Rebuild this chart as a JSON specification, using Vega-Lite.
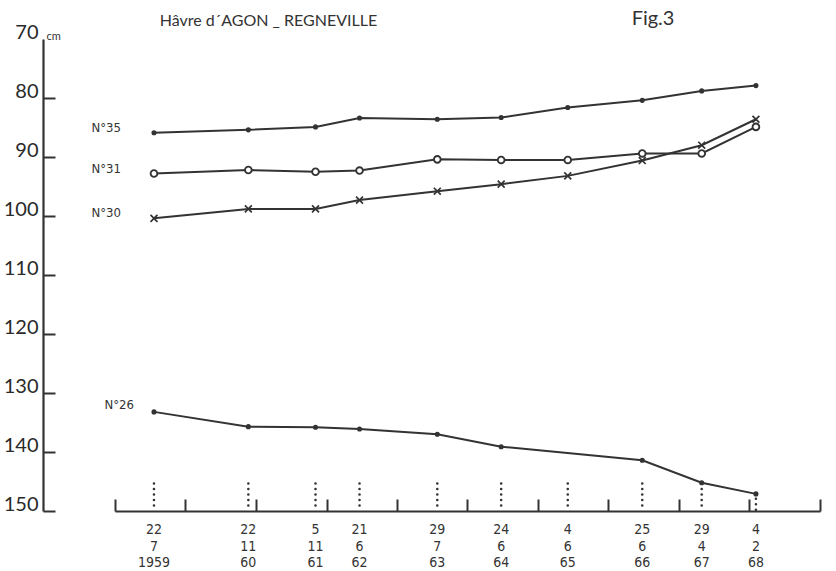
{
  "$schema": "https://vega.github.io/schema/vega-lite/v6.json",
  "width": 705,
  "height": 472,
  "autosize": {"type": "none"},
  "padding": {"left": 115, "top": 39, "right": 16, "bottom": 60},
  "background": "white",
  "config": {"view": {"stroke": null}, "font": "Lato"},
  "datasets": {
    "dates": [
      {"date": "1959-07-22", "label": "22\n7\n1959", "top": 145.35},
      {"date": "1960-11-22", "label": "22\n11\n60", "top": 145.35},
      {"date": "1961-11-05", "label": "5\n11\n61", "top": 145.35},
      {"date": "1962-06-21", "label": "21\n6\n62", "top": 145.35},
      {"date": "1963-07-29", "label": "29\n7\n63", "top": 145.35},
      {"date": "1964-06-24", "label": "24\n6\n64", "top": 145.35},
      {"date": "1965-06-04", "label": "4\n6\n65", "top": 145.35},
      {"date": "1966-06-25", "label": "25\n6\n66", "top": 145.35},
      {"date": "1967-04-29", "label": "29\n4\n67", "top": 145.35},
      {"date": "1968-02-04", "label": "4\n2\n68", "top": 147.0}
    ],
    "obs": [
      {"station": "N°35", "date": "1959-07-22", "cm": 85.9},
      {"station": "N°35", "date": "1960-11-22", "cm": 85.4},
      {"station": "N°35", "date": "1961-11-05", "cm": 84.9},
      {"station": "N°35", "date": "1962-06-21", "cm": 83.4},
      {"station": "N°35", "date": "1963-07-29", "cm": 83.6},
      {"station": "N°35", "date": "1964-06-24", "cm": 83.3},
      {"station": "N°35", "date": "1965-06-04", "cm": 81.6},
      {"station": "N°35", "date": "1966-06-25", "cm": 80.4},
      {"station": "N°35", "date": "1967-04-29", "cm": 78.8},
      {"station": "N°35", "date": "1968-02-04", "cm": 77.9},
      {"station": "N°31", "date": "1959-07-22", "cm": 92.8},
      {"station": "N°31", "date": "1960-11-22", "cm": 92.2},
      {"station": "N°31", "date": "1961-11-05", "cm": 92.5},
      {"station": "N°31", "date": "1962-06-21", "cm": 92.3},
      {"station": "N°31", "date": "1963-07-29", "cm": 90.4},
      {"station": "N°31", "date": "1964-06-24", "cm": 90.5},
      {"station": "N°31", "date": "1965-06-04", "cm": 90.5},
      {"station": "N°31", "date": "1966-06-25", "cm": 89.4},
      {"station": "N°31", "date": "1967-04-29", "cm": 89.4},
      {"station": "N°31", "date": "1968-02-04", "cm": 84.9},
      {"station": "N°30", "date": "1959-07-22", "cm": 100.4},
      {"station": "N°30", "date": "1960-11-22", "cm": 98.8},
      {"station": "N°30", "date": "1961-11-05", "cm": 98.8},
      {"station": "N°30", "date": "1962-06-21", "cm": 97.3},
      {"station": "N°30", "date": "1963-07-29", "cm": 95.8},
      {"station": "N°30", "date": "1964-06-24", "cm": 94.6},
      {"station": "N°30", "date": "1965-06-04", "cm": 93.2},
      {"station": "N°30", "date": "1966-06-25", "cm": 90.6},
      {"station": "N°30", "date": "1967-04-29", "cm": 88.0},
      {"station": "N°30", "date": "1968-02-04", "cm": 83.6},
      {"station": "N°26", "date": "1959-07-22", "cm": 133.2},
      {"station": "N°26", "date": "1960-11-22", "cm": 135.7},
      {"station": "N°26", "date": "1961-11-05", "cm": 135.8},
      {"station": "N°26", "date": "1962-06-21", "cm": 136.1},
      {"station": "N°26", "date": "1963-07-29", "cm": 137.0},
      {"station": "N°26", "date": "1964-06-24", "cm": 139.1},
      {"station": "N°26", "date": "1966-06-25", "cm": 141.4},
      {"station": "N°26", "date": "1967-04-29", "cm": 145.2},
      {"station": "N°26", "date": "1968-02-04", "cm": 147.1}
    ]
  },
  "layer": [
    {
      "data": {"name": "dates"},
      "mark": {"type": "rule", "strokeDash": [0, 5.5], "strokeCap": "round", "strokeWidth": 2.6, "color": "#333"},
      "encoding": {
        "x": {
          "field": "date", "type": "temporal",
          "scale": {"domain": [{"year": 1959, "month": 1, "date": 1}, {"year": 1969, "month": 1, "date": 1}], "nice": false},
          "axis": {
            "values": [{"year": 1959}, {"year": 1960}, {"year": 1961}, {"year": 1962}, {"year": 1963}, {"year": 1964}, {"year": 1965}, {"year": 1966}, {"year": 1967}, {"year": 1968}, {"year": 1969}],
            "tickSize": -12, "tickWidth": 2, "tickColor": "#333",
            "labels": false, "grid": false, "title": null,
            "domainColor": "#333", "domainWidth": 2.2
          }
        },
        "y": {
          "field": "top", "type": "quantitative",
          "scale": {"domain": [70, 150], "reverse": true, "nice": false, "zero": false},
          "axis": {
            "values": [70, 80, 90, 100, 110, 120, 130, 140, 150],
            "orient": "left", "offset": 72,
            "tickSize": -12, "tickWidth": 2,
            "tickColor": {"condition": {"test": "datum.value == 70", "value": "transparent"}, "value": "#333"},
            "domainColor": "#333", "domainWidth": 2.2,
            "grid": false,
            "labelFontSize": 20, "labelColor": "#2a2a2a", "labelFont": "Lato",
            "labelBaseline": "alphabetic", "labelPadding": 17, "labelOffset": -1,
            "title": "cm", "titleAngle": 0, "titleX": 3, "titleY": 0,
            "titleAlign": "left", "titleBaseline": "alphabetic",
            "titleFontSize": 11, "titleFontWeight": "normal", "titleColor": "#333", "titleFont": "Lato"
          }
        },
        "y2": {"datum": 150}
      }
    },
    {
      "data": {"name": "dates"},
      "mark": {"type": "text", "lineBreak": "\n", "baseline": "top", "align": "center", "dy": 12, "lineHeight": 16.5, "fontSize": 14, "font": "'Liberation Sans Narrow', 'DejaVu Sans Condensed', sans-serif", "color": "#333"},
      "encoding": {
        "x": {"field": "date", "type": "temporal"},
        "y": {"datum": 150},
        "text": {"field": "label"}
      }
    },
    {
      "data": {"name": "obs"},
      "mark": {"type": "line", "color": "#333", "strokeWidth": 2},
      "encoding": {
        "x": {"field": "date", "type": "temporal"},
        "y": {"field": "cm", "type": "quantitative"},
        "detail": {"field": "station"}
      }
    },
    {
      "data": {"name": "obs"},
      "transform": [{"filter": "datum.station == 'N°35' || datum.station == 'N°26'"}],
      "mark": {"type": "point", "filled": true, "size": 26, "color": "#333", "opacity": 1},
      "encoding": {
        "x": {"field": "date", "type": "temporal"},
        "y": {"field": "cm", "type": "quantitative"}
      }
    },
    {
      "data": {"name": "obs"},
      "transform": [{"filter": "datum.station == 'N°31'"}],
      "mark": {"type": "point", "shape": "circle", "filled": false, "fill": "white", "fillOpacity": 1, "stroke": "#333", "strokeWidth": 1.9, "size": 45, "opacity": 1},
      "encoding": {
        "x": {"field": "date", "type": "temporal"},
        "y": {"field": "cm", "type": "quantitative"}
      }
    },
    {
      "data": {"name": "obs"},
      "transform": [{"filter": "datum.station == 'N°30'"}],
      "mark": {"type": "point", "shape": "M-1,-1L1,1M-1,1L1,-1", "filled": false, "stroke": "#333", "strokeWidth": 1.7, "size": 48, "opacity": 1},
      "encoding": {
        "x": {"field": "date", "type": "temporal"},
        "y": {"field": "cm", "type": "quantitative"}
      }
    },
    {
      "data": {"name": "obs"},
      "transform": [{"filter": "year(datum.date) == 1959 && datum.station != 'N°26'"}],
      "mark": {"type": "text", "align": "right", "baseline": "middle", "dx": -33, "dy": -5, "fontSize": 13, "font": "'Liberation Sans Narrow', 'DejaVu Sans Condensed', sans-serif", "color": "#333"},
      "encoding": {
        "x": {"field": "date", "type": "temporal"},
        "y": {"field": "cm", "type": "quantitative"},
        "text": {"field": "station"}
      }
    },
    {
      "data": {"name": "obs"},
      "transform": [{"filter": "year(datum.date) == 1959 && datum.station == 'N°26'"}],
      "mark": {"type": "text", "align": "right", "baseline": "middle", "dx": -20, "dy": -7, "fontSize": 13, "font": "'Liberation Sans Narrow', 'DejaVu Sans Condensed', sans-serif", "color": "#333"},
      "encoding": {
        "x": {"field": "date", "type": "temporal"},
        "y": {"field": "cm", "type": "quantitative"},
        "text": {"field": "station"}
      }
    },
    {
      "data": {"values": [{"text": "Hâvre  d´AGON _ REGNEVILLE", "x": "1959-08-21"}]},
      "mark": {"type": "text", "align": "left", "baseline": "alphabetic", "fontSize": 16, "font": "Lato", "color": "#333"},
      "encoding": {
        "x": {"field": "x", "type": "temporal"},
        "y": {"datum": 67.75},
        "text": {"field": "text"}
      }
    },
    {
      "data": {"values": [{"text": "Fig.3", "x": "1966-05-01"}]},
      "mark": {"type": "text", "align": "left", "baseline": "alphabetic", "fontSize": 20, "font": "Lato", "color": "#333"},
      "encoding": {
        "x": {"field": "x", "type": "temporal"},
        "y": {"datum": 67.6},
        "text": {"field": "text"}
      }
    }
  ]
}
